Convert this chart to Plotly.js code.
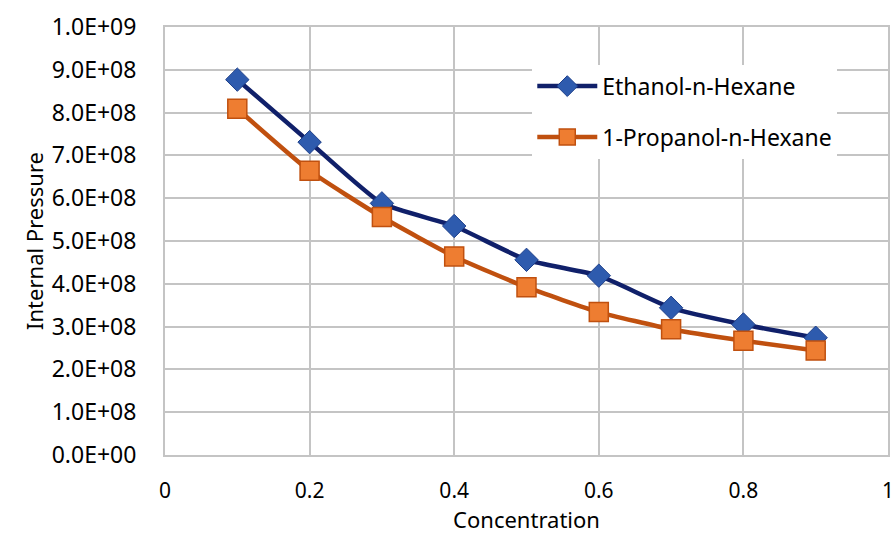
<!DOCTYPE html>
<html>
<head>
<meta charset="utf-8">
<script src="https://cdn.plot.ly/plotly-3.0.1.min.js"></script>
<style>html,body{margin:0;padding:0;background:#fff;}#chart{width:895px;height:534px;}</style>
</head>
<body>
<div id="chart"></div>
<script>
const concentration = [0.1, 0.2, 0.3, 0.4, 0.5, 0.6, 0.7, 0.8, 0.9];
const ethanolHexane = [8.77e8, 7.31e8, 5.88e8, 5.35e8, 4.56e8, 4.19e8, 3.44e8, 3.05e8, 2.74e8];
const propanolHexane = [8.09e8, 6.64e8, 5.56e8, 4.64e8, 3.92e8, 3.34e8, 2.94e8, 2.67e8, 2.44e8];
const seriesNames = ["Ethanol-n-Hexane", "1-Propanol-n-Hexane"];
const yTickVals = [0, 1e8, 2e8, 3e8, 4e8, 5e8, 6e8, 7e8, 8e8, 9e8, 1e9];
const yTickText = ["0.0E+00", "1.0E+08", "2.0E+08", "3.0E+08", "4.0E+08", "5.0E+08", "6.0E+08", "7.0E+08", "8.0E+08", "9.0E+08", "1.0E+09"];
const xTickVals = [0, 0.2, 0.4, 0.6, 0.8, 1];
const xTickText = ["0", "0.2", "0.4", "0.6", "0.8", "1"];

const font = "Noto Sans, Open Sans, sans-serif";
const gridCol = "#C4C4C4";

const traces = [
  {
    x: concentration, y: ethanolHexane, name: seriesNames[0], legendgroup: "g1",
    type: "scatter", mode: "lines+markers",
    line: {color: "#10206A", width: 4.5, shape: "spline", smoothing: 0.5},
    marker: {symbol: "diamond", size: 18, color: "#2E5BAE", line: {color: "#1D3F8A", width: 1}}
  },
  {
    x: concentration, y: propanolHexane, name: seriesNames[1], legendgroup: "g2",
    type: "scatter", mode: "lines+markers",
    line: {color: "#C0500F", width: 4.5, shape: "spline", smoothing: 0.5},
    marker: {symbol: "square", size: 19, color: "#EE7D31", line: {color: "#C0500F", width: 1.5}}
  }
];

const layout = {
  width: 895, height: 534,
  margin: {l: 165, r: 7, t: 27, b: 79},
  paper_bgcolor: "#fff", plot_bgcolor: "#fff",
  font: {family: font, size: 23, color: "#000"},
  showlegend: true,
  legend: {
    x: 0.508, y: 0.912, xanchor: "left", yanchor: "top",
    bgcolor: "rgba(255,255,255,1)", borderwidth: 0,
    font: {family: font, size: 23, color: "#000"},
    traceorder: "grouped", tracegroupgap: 18, itemwidth: 60
  },
  xaxis: {
    range: [0, 1], tickmode: "array", tickvals: xTickVals, ticktext: xTickText,
    showgrid: true, gridcolor: gridCol, gridwidth: 2,
    zeroline: false, showline: true, linecolor: gridCol, linewidth: 2, mirror: true,
    ticks: "", ticklabelstandoff: 16,
    tickfont: {family: font, size: 21, color: "#000"},
    title: {text: "Concentration", font: {family: font, size: 22, color: "#000"}, standoff: 5}
  },
  yaxis: {
    range: [0, 1e9], tickmode: "array", tickvals: yTickVals, ticktext: yTickText,
    showgrid: true, gridcolor: gridCol, gridwidth: 2,
    zeroline: false, showline: true, linecolor: gridCol, linewidth: 2, mirror: true,
    ticks: "", ticklabelstandoff: 22,
    tickfont: {family: font, size: 23, color: "#000"},
    title: {text: "Internal Pressure", font: {family: font, size: 22, color: "#000"}, standoff: 2}
  }
};

Plotly.newPlot("chart", traces, layout, {displayModeBar: false, staticPlot: true});
</script>
</body>
</html>
